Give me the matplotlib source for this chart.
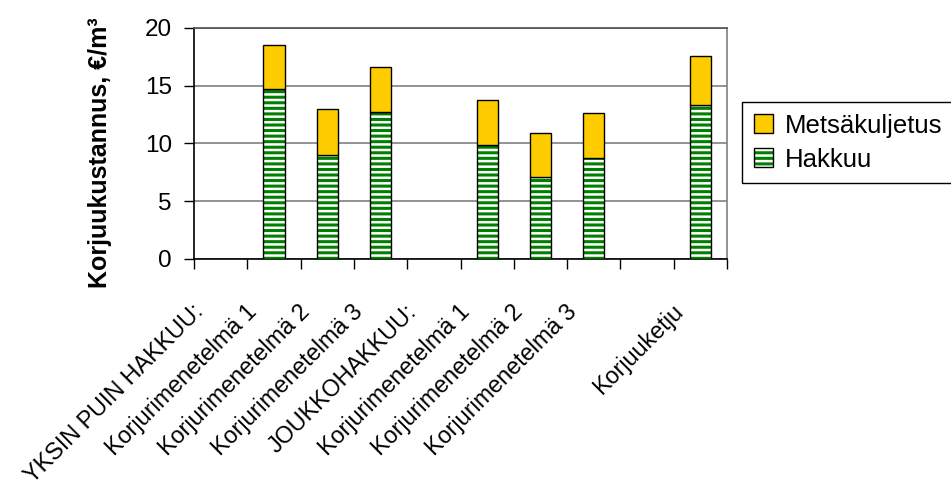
import matplotlib
matplotlib.use("Agg")
import matplotlib.pyplot as plt
import numpy as np
from matplotlib.patches import Patch
from matplotlib.legend_handler import HandlerTuple
from matplotlib.transforms import ScaledTranslation

plt.rcParams['font.family'] = ['Liberation Sans', 'DejaVu Sans']
plt.rcParams['hatch.linewidth'] = 2.2

categories = ["YKSIN PUIN HAKKUU:", "Korjurimenetelmä 1", "Korjurimenetelmä 2",
              "Korjurimenetelmä 3", "JOUKKOHAKKUU:", "Korjurimenetelmä 1",
              "Korjurimenetelmä 2", "Korjurimenetelmä 3", "", "Korjuuketju"]
hakkuu = [0, 14.7, 9.0, 12.7, 0, 9.9, 7.1, 8.7, 0, 13.3]
metsakuljetus = [0, 3.8, 4.0, 3.9, 0, 3.9, 3.8, 3.9, 0, 4.3]
yticks = [0, 5, 10, 15, 20]

green = '#008000'
yellow = '#FFCC00'
FS = 17.5

fig = plt.figure(figsize=(9.51, 4.88), dpi=100)
ax = fig.add_axes([0.204, 0.4693, 0.5605, 0.4734])

x = np.arange(len(categories)) + 0.5
h = np.array(hakkuu)
m = np.array(metsakuljetus)
mask = (h + m) > 0
w = 0.4

ax.bar(x[mask], h[mask], width=w, facecolor='white', edgecolor=green, hatch='---', linewidth=0, zorder=3)
ax.bar(x[mask], h[mask], width=w, fill=False, edgecolor='black', linewidth=1, zorder=4)
ax.bar(x[mask], m[mask], bottom=h[mask], width=w, facecolor=yellow, edgecolor='black', linewidth=1, zorder=4)

ax.set_xlim(0, len(categories))
ax.set_ylim(0, 20)
ax.set_yticks(yticks)
ax.yaxis.grid(True, color='#808080', linewidth=1.2, zorder=0)
ax.set_axisbelow(True)

ax.set_xticks(np.arange(len(categories) + 1))
ax.set_xticklabels([])
ax.set_xticks(x, minor=True)
ax.set_xticklabels(categories, minor=True, rotation=45, ha='right', va='top',
                   rotation_mode='anchor', fontsize=16.8)
ax.tick_params(axis='x', which='major', length=7, width=1, direction='out', color='black')
ax.tick_params(axis='x', which='minor', length=0, pad=29.5)
ax.tick_params(axis='y', length=7, width=1, direction='out', pad=9, labelsize=FS)

off = ScaledTranslation(-29 / 100, 0, fig.dpi_scale_trans)
for lab in ax.get_xticklabels(minor=True):
    lab.set_transform(lab.get_transform() + off)

for s in ['left', 'bottom']:
    ax.spines[s].set_color('black')
    ax.spines[s].set_linewidth(1.2)
ax.spines['top'].set_color('#505050')
ax.spines['right'].set_color('#808080')
ax.spines['top'].set_linewidth(1.2)
ax.spines['right'].set_linewidth(1.2)

ax.set_ylabel('Korjuukustannus, €/m³', fontsize=18, fontweight='bold')
ax.yaxis.set_label_coords(-0.154, 0.461)

hp1 = Patch(facecolor='white', edgecolor=green, hatch='---', linewidth=0)
hp2 = Patch(fill=False, edgecolor='black', linewidth=1)
yp = Patch(facecolor=yellow, edgecolor='black', linewidth=1)
leg = fig.legend([yp, (hp1, hp2)], ['Metsäkuljetus', 'Hakkuu'],
                 handler_map={tuple: HandlerTuple(ndivide=1, pad=0)},
                 loc='upper left', bbox_to_anchor=(742 / 951, 1 - 102 / 488),
                 fontsize=18.5, frameon=True, fancybox=False, framealpha=1,
                 edgecolor='black', handlelength=0.75, handleheight=0.75,
                 handletextpad=0.45, borderpad=0.45, labelspacing=0.4,
                 borderaxespad=0)
leg.get_frame().set_linewidth(1)

fig.savefig('out.png', dpi=100)
